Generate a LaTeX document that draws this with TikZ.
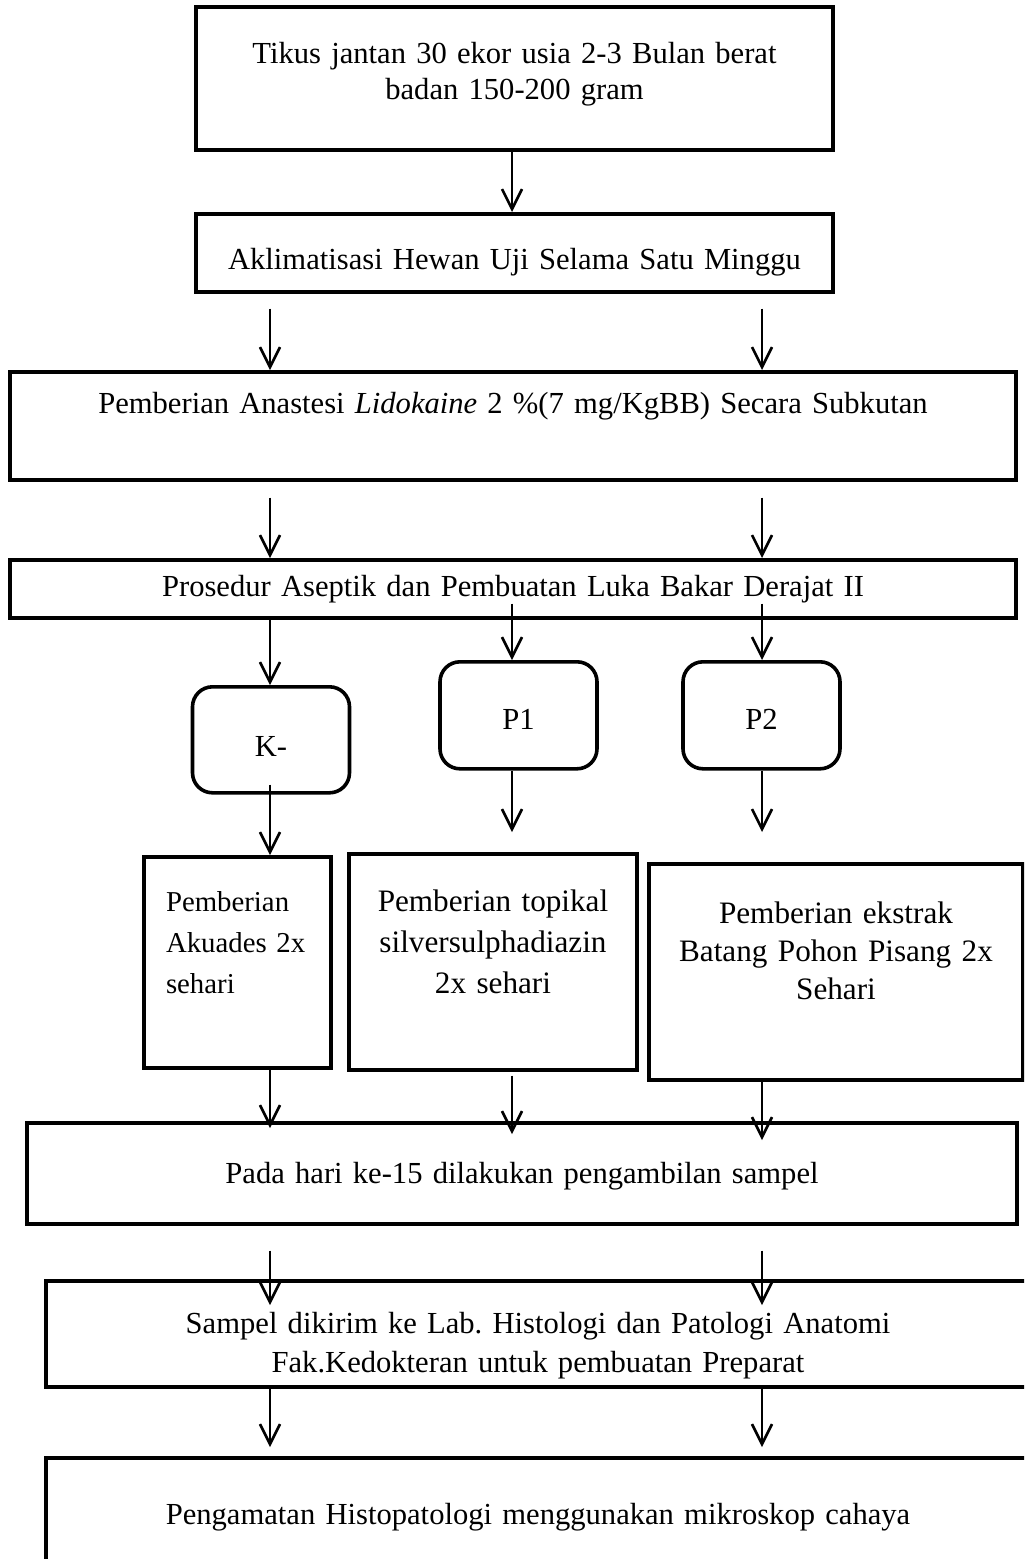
\documentclass[tikz,border=0pt]{standalone}
\usepackage{fontspec}
\setmainfont{Liberation Serif}
\usetikzlibrary{arrows.meta}
\frenchspacing

\begin{document}
\begin{tikzpicture}[
  x=0.5pt, y=-0.5pt,
  every node/.style={font=\fontsize{15.3}{19.5}\selectfont},
  box/.style={draw, line width=1.8pt, inner sep=0pt, anchor=north, align=center},
  grp/.style={box, rounded corners=10pt, text width=78.5pt},
  arr/.style={line width=1.3pt, -{Straight Barb[length=10pt,width=10pt]}},
  ]
  \useasboundingbox (0,0) rectangle (1024,1559);
  \clip (0,0) rectangle (1024,1559);
  \coordinate (cL) at (270,0);
  \coordinate (cM) at (512,0);
  \coordinate (cR) at (762,0);

  \node[box, text width=318.5pt, text height=28.5pt, text depth=43pt,
    font=\fontsize{15.3}{18}\selectfont] (tikus) at (514.5,5)
    {Tikus jantan 30 ekor usia 2-3 Bulan berat\\badan 150-200 gram};
  \node[box, text width=318.5pt, text height=28pt, text depth=11pt] (akl) at (514.5,212)
    {Aklimatisasi Hewan Uji Selama Satu Minggu};
  \node[box, text width=503pt, text height=21pt, text depth=33pt] (anes) at (513,370)
    {Pemberian Anastesi \textit{Lidokaine} 2 \%(7 mg/KgBB) Secara Subkutan};
  \node[box, text width=503pt, text height=18.5pt, text depth=10.5pt] (pros) at (513,558)
    {Prosedur Aseptik dan Pembuatan Luka Bakar Derajat II};

  \node[grp, text height=35pt, text depth=18pt] (kneg) at (271,685) {K-};
  \node[grp, text height=34pt, text depth=19.5pt] (pone) at (518.5,660) {P1};
  \node[grp, text height=34pt, text depth=19.5pt] (ptwo) at (761.5,660) {P2};

  \node[box, align=left, text width=93.5pt, text height=27.5pt, text depth=78pt,
    font=\fontsize{14.4}{20.5}\selectfont] (aku) at (237.5,855)
    {\hspace*{11pt}Pemberian\\\hspace*{11pt}Akuades 2x\\\hspace*{11pt}sehari};
  \node[box, text width=144pt, text height=29pt, text depth=79pt,
    font=\fontsize{15.6}{20.5}\selectfont] (sil) at (493,852)
    {Pemberian topikal\\silversulphadiazin\\2x sehari};
  \node[box, text width=187pt, text height=30pt, text depth=78pt,
    font=\fontsize{15.6}{19}\selectfont] (eks) at (836,862)
    {Pemberian ekstrak\\Batang Pohon Pisang 2x\\Sehari};

  \node[box, text width=495pt, text height=30.5pt, text depth=20pt] (pada) at (522,1121)
    {Pada hari ke-15 dilakukan pengambilan sampel};
  \node[box, text width=492pt, text height=26.5pt, text depth=26.5pt] (smp) at (538,1279)
    {Sampel dikirim ke Lab. Histologi dan Patologi Anatomi\\Fak.Kedokteran untuk pembuatan Preparat};
  \node[box, text width=492pt, text height=33.5pt, text depth=30pt] (obs) at (538,1456)
    {Pengamatan Histopatologi menggunakan mikroskop cahaya};

  \draw[arr] (tikus.south -| cM) -- (akl.north -| cM);
  \foreach \c in {cL,cR} {
    \draw[arr, shorten <=7.5pt] (akl.south -| \c) -- (anes.north -| \c);
    \draw[arr, shorten <=8pt] (anes.south -| \c) -- (pros.north -| \c);
  }
  \draw[arr] (pros.south -| cL) -- (kneg.north -| cL);
  \draw[arr, shorten <=-8pt] (pros.south -| cM) -- (pone.north -| cM);
  \draw[arr, shorten <=-8pt] (pros.south -| cR) -- (ptwo.north -| cR);
  \draw[arr, shorten <=-5pt] (kneg.south -| cL) -- (aku.north -| cL);
  \draw[arr, shorten >=10pt] (pone.south -| cM) -- (sil.north -| cM);
  \draw[arr, shorten >=15pt] (ptwo.south -| cR) -- (eks.north -| cR);
  \draw[arr, shorten >=-3.5pt] (aku.south -| cL) -- (pada.north -| cL);
  \draw[arr, shorten <=2pt, shorten >=-6.5pt] (sil.south -| cM) -- (pada.north -| cM);
  \draw[arr, shorten >=-9.5pt] (eks.south -| cR) -- (pada.north -| cR);
  \foreach \c in {cL,cR} {
    \draw[arr, shorten <=12.5pt, shorten >=-13pt] (pada.south -| \c) -- (smp.north -| \c);
    \draw[arr, shorten >=4.5pt] (smp.south -| \c) -- (obs.north -| \c);
  }
\end{tikzpicture}
\end{document}
